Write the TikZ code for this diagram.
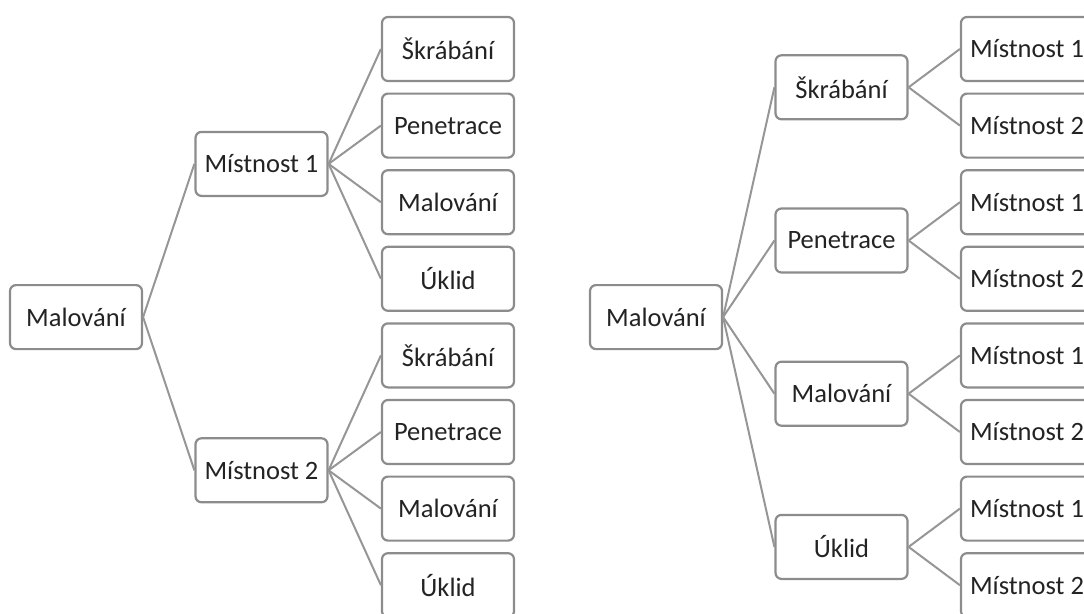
\documentclass[tikz,border=0pt]{standalone}
\usepackage{fontspec}
\setmainfont{Carlito}
\definecolor{boxgray}{RGB}{140,140,140}
\definecolor{edgegray}{RGB}{150,150,150}
\definecolor{textgray}{RGB}{35,35,35}
\tikzset{
  box/.style={draw=boxgray, line width=2.2pt, rounded corners=6pt, fill=white,
    minimum width=132pt, minimum height=64pt, inner sep=0pt, text=textgray,
    font=\fontsize{26.5}{30}\selectfont},
  edge/.style={draw=edgegray, line width=2pt}
}
\begin{document}
\begin{tikzpicture}[x=1pt,y=-1pt]
\path[use as bounding box, clip] (0,0) rectangle (1084,613);
% ---------- left tree ----------
\node[box] (lr) at (76,317.1) {Malování};
\node[box] (lm1) at (261.5,163.9) {Místnost 1};
\node[box] (lm2) at (261.5,470.3) {Místnost 2};
\node[box] (la1) at (448,49) {Škrábání};
\node[box] (la2) at (448,125.6) {Penetrace};
\node[box] (la3) at (448,202.2) {Malování};
\node[box] (la4) at (448,278.8) {Úklid};
\node[box] (lb1) at (448,355.4) {Škrábání};
\node[box] (lb2) at (448,432) {Penetrace};
\node[box] (lb3) at (448,508.6) {Malování};
\node[box] (lb4) at (448,585.2) {Úklid};
\draw[edge] (lr.east) -- (lm1.west);
\draw[edge] (lr.east) -- (lm2.west);
\foreach \n in {la1,la2,la3,la4} \draw[edge] (lm1.east) -- (\n.west);
\foreach \n in {lb1,lb2,lb3,lb4} \draw[edge] (lm2.east) -- (\n.west);
% ---------- right tree ----------
\node[box] (rr) at (656,317.1) {Malování};
\node[box] (rm1) at (841.5,87.3) {Škrábání};
\node[box] (rm2) at (841.5,240.5) {Penetrace};
\node[box] (rm3) at (841.5,393.7) {Malování};
\node[box] (rm4) at (841.5,546.9) {Úklid};
\node[box] (ra1) at (1027,49) {Místnost 1};
\node[box] (ra2) at (1027,125.6) {Místnost 2};
\node[box] (rb1) at (1027,202.2) {Místnost 1};
\node[box] (rb2) at (1027,278.8) {Místnost 2};
\node[box] (rc1) at (1027,355.4) {Místnost 1};
\node[box] (rc2) at (1027,432) {Místnost 2};
\node[box] (rd1) at (1027,508.6) {Místnost 1};
\node[box] (rd2) at (1027,585.2) {Místnost 2};
\foreach \n in {rm1,rm2,rm3,rm4} \draw[edge] (rr.east) -- (\n.west);
\draw[edge] (rm1.east) -- (ra1.west);
\draw[edge] (rm1.east) -- (ra2.west);
\draw[edge] (rm2.east) -- (rb1.west);
\draw[edge] (rm2.east) -- (rb2.west);
\draw[edge] (rm3.east) -- (rc1.west);
\draw[edge] (rm3.east) -- (rc2.west);
\draw[edge] (rm4.east) -- (rd1.west);
\draw[edge] (rm4.east) -- (rd2.west);
\end{tikzpicture}
\end{document}
